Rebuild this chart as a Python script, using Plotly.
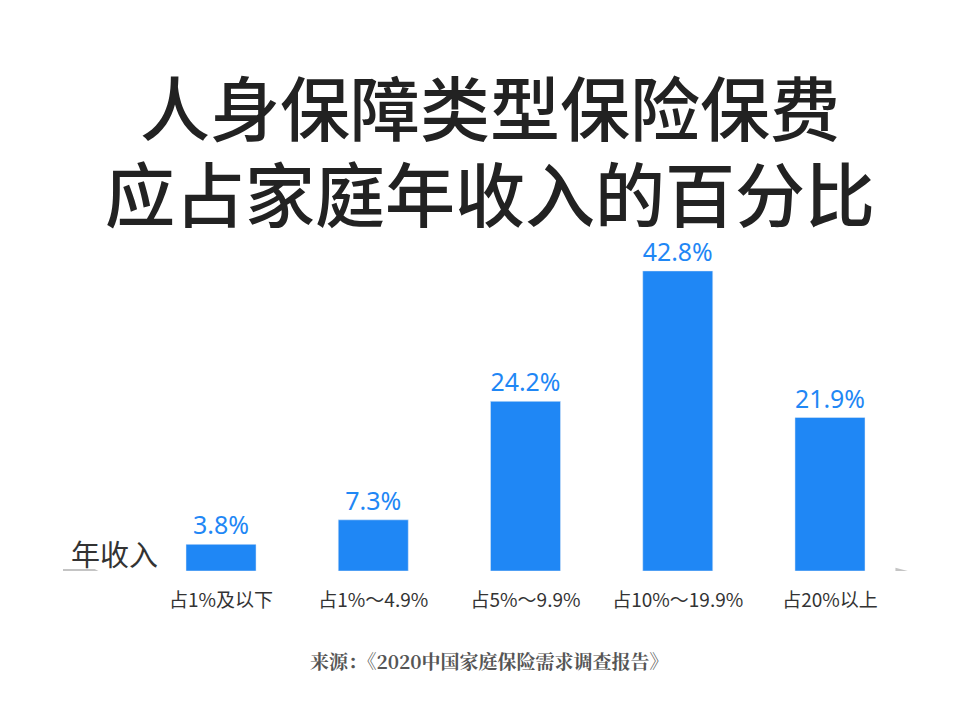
import plotly.graph_objects as go

categories = ['占1%及以下', '占1%～4.9%', '占5%～9.9%', '占10%～19.9%', '占20%以上']
values = [3.8, 7.3, 24.2, 42.8, 21.9]
labels = ['3.8%', '7.3%', '24.2%', '42.8%', '21.9%']

blue = '#1f87f5'
cjk = 'Noto Sans CJK SC'

fig = go.Figure(go.Bar(
    x=list(range(len(categories))), y=values,
    text=labels, textposition='outside', cliponaxis=False,
    textfont=dict(size=25, color=blue, family='Noto Sans'),
    marker_color=blue, width=0.46,
))

ph = 715 - 230 - 152
def py(pix):
    return (715 - 152 - pix) / ph

fig.update_layout(
    width=954, height=715, plot_bgcolor='rgba(0,0,0,0)', paper_bgcolor='white',
    margin=dict(l=55, r=46, t=230, b=152, autoexpand=False), showlegend=False,
    xaxis=dict(range=[-1.038, 4.565], tickvals=list(range(5)), ticktext=categories,
               showgrid=False, zeroline=False, showline=False, ticks='',
               tickfont=dict(size=19, color='#333', family=cjk), ticklabelstandoff=16),
    yaxis=dict(range=[0, 47.5], visible=False),
    shapes=[
        dict(type='line', xref='x', yref='y', x0=-1.038, x1=4.45, y0=-0.3, y1=-0.3,
             line=dict(color='#c4c4c4', width=4), layer='above'),
        dict(type='path', xref='x', yref='y', path='M 4.43 0.45 L 4.565 -0.3 L 4.43 -1.05 Z',
             fillcolor='#c4c4c4', line_width=0, layer='above'),
        dict(type='path', xref='x', yref='y', path='M -1.038 -0.3 L -1.038 0.3 L -0.83 0.3 L -0.78 -0.3 Z',
             fillcolor='#c4c4c4', line_width=0, layer='above'),
    ],
    annotations=[
        dict(text='人身保障类型保险保费', x=0.5, y=py(97), xref='paper', yref='paper',
             showarrow=False, font=dict(size=70, color='#222', family=cjk, weight=500), yanchor='middle'),
        dict(text='应占家庭年收入的百分比', x=0.5, y=py(183), xref='paper', yref='paper',
             showarrow=False, font=dict(size=70, color='#222', family=cjk, weight=500), yanchor='middle'),
        dict(text='年收入', x=-0.7, y=2.6, xref='x', yref='y', showarrow=False,
             font=dict(size=29, color='#333', family=cjk)),
        dict(text='<b>来源：《2020中国家庭保险需求调查报告》</b>', x=0.5, y=py(668), xref='paper', yref='paper',
             showarrow=False, font=dict(size=19, color='#555', family='Noto Serif CJK SC, serif')),
    ],
)

fig.write_html('out.html')
